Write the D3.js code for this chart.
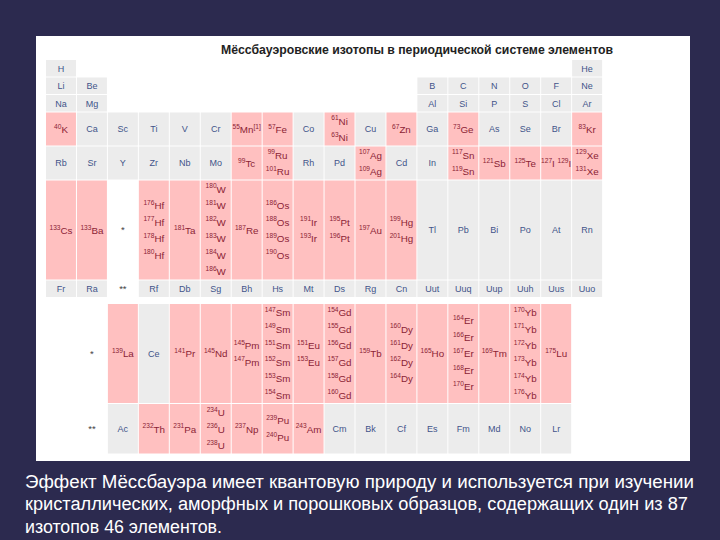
<!DOCTYPE html>
<html>
<head>
<meta charset="utf-8">
<script src="https://cdn.jsdelivr.net/npm/d3@7"></script>
<style>
	body { margin: 0; background: #2c2a4f; }
</style>
</head>
<body>
<div id="chart"></div>
<script>

// periods of the main table, "" = empty cell, "*"/"**" = placeholders
const period1 = ["H", "", "", "", "", "", "", "", "", "", "", "", "", "", "", "", "", "He"];
const period2 = ["Li", "Be", "", "", "", "", "", "", "", "", "", "", "B", "C", "N", "O", "F", "Ne"];
const period3 = ["Na", "Mg", "", "", "", "", "", "", "", "", "", "", "Al", "Si", "P", "S", "Cl", "Ar"];
const period4 = ["K", "Ca", "Sc", "Ti", "V", "Cr", "Mn", "Fe", "Co", "Ni", "Cu", "Zn", "Ga", "Ge", "As", "Se", "Br", "Kr"];
const period5 = ["Rb", "Sr", "Y", "Zr", "Nb", "Mo", "Tc", "Ru", "Rh", "Pd", "Ag", "Cd", "In", "Sn", "Sb", "Te", "I", "Xe"];
const period6 = ["Cs", "Ba", "*", "Hf", "Ta", "W", "Re", "Os", "Ir", "Pt", "Au", "Hg", "Tl", "Pb", "Bi", "Po", "At", "Rn"];
const period7 = ["Fr", "Ra", "**", "Rf", "Db", "Sg", "Bh", "Hs", "Mt", "Ds", "Rg", "Cn", "Uut", "Uuq", "Uup", "Uuh", "Uus", "Uuo"];

// f-block rows, starting in column 2
const lanthanides = ["*", "La", "Ce", "Pr", "Nd", "Pm", "Sm", "Eu", "Gd", "Tb", "Dy", "Ho", "Er", "Tm", "Yb", "Lu"];
const actinides = ["**", "Ac", "Th", "Pa", "U", "Np", "Pu", "Am", "Cm", "Bk", "Cf", "Es", "Fm", "Md", "No", "Lr"];

// Mössbauer isotopes (mass numbers) per element
const isotopes = {
	K: [40], Mn: [55], Fe: [57], Ni: [61, 63], Zn: [67], Ge: [73], Kr: [83],
	Tc: [99], Ru: [99, 101], Ag: [107, 109], Sn: [117, 119], Sb: [121], Te: [125], I: [127, 129], Xe: [129, 131],
	Cs: [133], Ba: [133], Hf: [176, 177, 178, 180], Ta: [181], W: [180, 181, 182, 183, 184, 186], Re: [187],
	Os: [186, 188, 189, 190], Ir: [191, 193], Pt: [195, 196], Au: [197], Hg: [199, 201],
	La: [139], Pr: [141], Nd: [145], Pm: [145, 147], Sm: [147, 149, 151, 152, 153, 154], Eu: [151, 153],
	Gd: [154, 155, 156, 157, 158, 160], Tb: [159], Dy: [160, 161, 162, 164], Ho: [165], Er: [164, 166, 167, 168, 170],
	Tm: [169], Yb: [170, 171, 172, 173, 174, 176], Lu: [175],
	Th: [232], Pa: [231], U: [234, 236, 238], Np: [237], Pu: [239, 240], Am: [243]
};
const footnotes = { Mn: "[1]" };
const inlineIsotopes = ["I"];   // written on one line

const title = "Мёссбауэровские изотопы в периодической системе элементов";
const caption = [
	"Эффект Мёссбауэра имеет квантовую природу и используется при изучении",
	"кристаллических, аморфных и порошковых образцов, содержащих один из 87",
	"изотопов 46 элементов."
];

let width = 720, height = 540;
let font = "'Liberation Sans', Arial, sans-serif";

let svg = d3.select("#chart")
	.append("svg")
	.attr("width", width)
	.attr("height", height);

svg.append("rect")
	.attr("width", width)
	.attr("height", height)
	.attr("fill", "#2c2a4f");

// white panel holding the table
svg.append("rect")
	.attr("x", 36)
	.attr("y", 36)
	.attr("width", 654)
	.attr("height", 425)
	.attr("fill", "#ffffff");

svg.append("text")
	.attr("x", 417)
	.attr("y", 53.5)
	.attr("text-anchor", "middle")
	.attr("font-family", font)
	.attr("font-size", 12)
	.attr("font-weight", "bold")
	.attr("fill", "#222")
	.attr("textLength", 392)
	.attr("lengthAdjust", "spacingAndGlyphs")
	.text(title);

// column scale
let x = d3.scaleBand()
	.domain(d3.range(1, 19))
	.range([46, 602.1])
	.paddingInner(0.032);

// height of one text line in a cell
let lineH = d3.scaleLinear().domain([0, 1]).range([0, 16.5]);

function lineCount(sym) {
	if (!isotopes[sym]) return 1;
	return inlineIsotopes.includes(sym) ? 1 : isotopes[sym].length;
}

let rows = [
	{ cells: period1, start: 1 },
	{ cells: period2, start: 1 },
	{ cells: period3, start: 1 },
	{ cells: period4, start: 1 },
	{ cells: period5, start: 1 },
	{ cells: period6, start: 1 },
	{ cells: period7, start: 1 },
	{ cells: lanthanides, start: 2, gapBefore: 6 },
	{ cells: actinides, start: 2 }
];

let rowTop = 60;
let cells = [];
rows.forEach(function (r) {
	if (r.gapBefore) rowTop += r.gapBefore;
	let n = d3.max(r.cells, lineCount);
	let h = lineH(n);
	r.cells.forEach(function (sym, i) {
		if (sym === "") return;
		cells.push({ sym: sym, col: r.start + i, y: rowTop, h: h });
	});
	rowTop += h + 1;
});

function kind(d) {
	if (d.sym === "*" || d.sym === "**") return "mark";
	return isotopes[d.sym] ? "iso" : "plain";
}

let fills = { iso: "#ffc0c0", plain: "#ececec", mark: "none" };
let inks = { iso: "#8b2335", plain: "#42548a", mark: "#444" };
let symSize = { iso: 9.8, plain: 9, mark: 9.5 };

svg.append("g")
	.selectAll("rect")
	.data(cells.filter(function (d) { return kind(d) !== "mark"; }))
	.enter().append("rect")
	.attr("x", function (d) { return x(d.col); })
	.attr("y", function (d) { return d.y; })
	.attr("width", x.bandwidth())
	.attr("height", function (d) { return d.h; })
	.attr("fill", function (d) { return fills[kind(d)]; });

// build text lines for a cell: each line is a list of segments
function linesOf(d) {
	let iso = isotopes[d.sym];
	if (!iso) return [[{ t: d.sym }]];
	let seg = function (m) {
		let s = [{ t: m, sup: true }, { t: d.sym }];
		if (footnotes[d.sym]) s.push({ t: footnotes[d.sym], sup: true });
		return s;
	};
	if (inlineIsotopes.includes(d.sym)) {
		let s = [];
		iso.forEach(function (m, i) {
			if (i > 0) s.push({ t: " " });
			s = s.concat(seg(m));
		});
		return [s];
	}
	return iso.map(seg);
}

let labels = svg.append("g")
	.attr("font-family", font)
	.selectAll("g")
	.data(cells)
	.enter().append("g");

labels.each(function (d) {
	let g = d3.select(this);
	let lines = linesOf(d);
	let cx = x(d.col) + x.bandwidth() / 2;
	let mid = d.y + d.h / 2;
	let k = kind(d);
	lines.forEach(function (segs, i) {
		let cy = mid + lineH(i - (lines.length - 1) / 2);
		let t = g.append("text")
			.attr("x", cx)
			.attr("y", cy + (k === "iso" ? 3.8 : 3.3))
			.attr("text-anchor", "middle")
			.attr("font-size", symSize[k])
			.attr("fill", inks[k]);
		let raised = false;
		segs.forEach(function (s) {
			let dy = 0;
			if (s.sup && !raised) { dy = -4.2; raised = true; }
			else if (!s.sup && raised) { dy = 4.2; raised = false; }
			t.append("tspan")
				.attr("dy", dy)
				.attr("font-size", s.sup ? 6.6 : symSize[k])
				.text(s.t);
		});
	});
});

// caption under the panel
let capWidths = [669, 663, 197];
svg.append("g")
	.selectAll("text")
	.data(caption)
	.enter().append("text")
	.attr("x", 25)
	.attr("y", function (d, i) { return 487.5 + i * 22.5; })
	.attr("font-family", "'Liberation Sans Narrow', 'Liberation Sans', Arial, sans-serif")
	.attr("font-size", 18)
	.attr("fill", "#ffffff")
	.attr("textLength", function (d, i) { return capWidths[i]; })
	.attr("lengthAdjust", "spacingAndGlyphs")
	.text(function (d) { return d; });

</script>
</body>
</html>
